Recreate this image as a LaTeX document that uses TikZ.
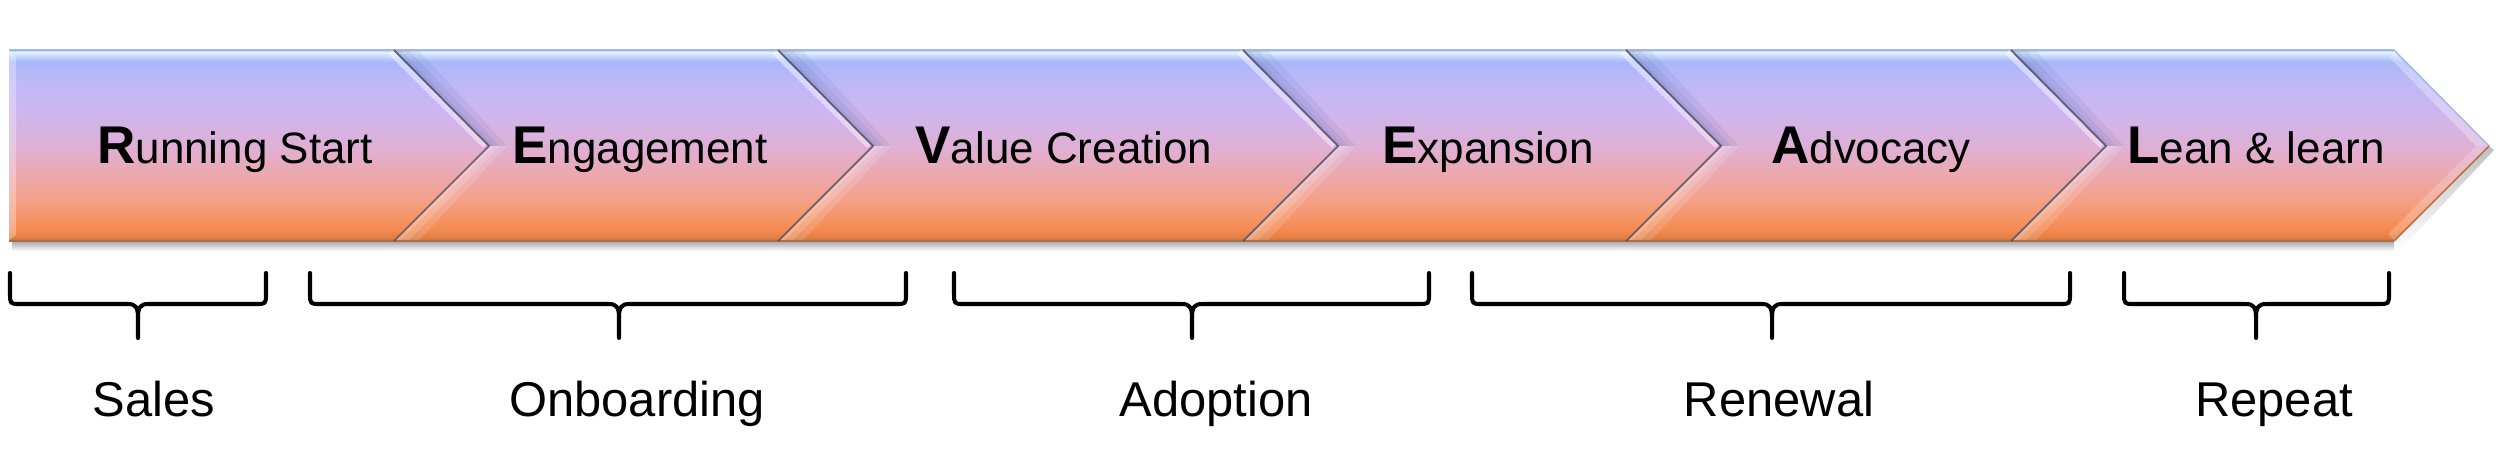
\documentclass[tikz,border=0pt]{standalone}
\usepackage{fontspec}
\setmainfont{Liberation Sans}
\definecolor{cBot}{HTML}{B86A3A}
\definecolor{cOa}{HTML}{E07E42}
\definecolor{cOb}{HTML}{F48A4E}
\definecolor{cOc}{HTML}{F4966C}
\definecolor{cS}{HTML}{F4A088}
\definecolor{cP}{HTML}{ECA8AE}
\definecolor{cM}{HTML}{DEB0D6}
\definecolor{cL}{HTML}{CDB6F0}
\definecolor{cLb}{HTML}{BDB8F8}
\definecolor{cB}{HTML}{A8B8F8}
\definecolor{cHa}{HTML}{C4D8FC}
\definecolor{cHb}{HTML}{E6F4FF}
\definecolor{cTop}{HTML}{A0B8E4}
\definecolor{notchdark}{HTML}{404058}
\definecolor{notchblue}{HTML}{5060A8}
\pgfdeclareverticalshading{barshade}{100bp}{color(0bp)=(cBot); color(25bp)=(cBot); color(25.8bp)=(cOa); color(27.9bp)=(cOb); color(31.8bp)=(cOc); color(35.7bp)=(cS); color(42.3bp)=(cP); color(50bp)=(cM); color(59.3bp)=(cL); color(67.1bp)=(cLb); color(71.9bp)=(cB); color(73.4bp)=(cHa); color(74.5bp)=(cHb); color(75bp)=(cTop); color(100bp)=(cTop)}
\newcommand{\bigini}[1]{{\fontsize{15.1}{18}\selectfont\bfseries #1}}
\newcommand{\mybrace}[3]{%
  \draw[bracepath] (#1,273) -- (#1,293) .. controls (#1,304) and (#1,304) .. ({#1+10},304) -- ({#2-10},304) .. controls ({#2-3},304) and (#2,307) .. (#2,317) -- (#2,338);
  \draw[bracepath] (#3,273) -- (#3,293) .. controls (#3,304) and (#3,304) .. ({#3-10},304) -- ({#2+10},304) .. controls ({#2+3},304) and (#2,307) .. (#2,317);
}
\newcommand{\mynotch}[1]{%
  \foreach \w in {18,11,5} {
    \fill[notchblue, opacity=0.1] (#1,51) -- ({#1+95},146) -- ({#1+95+\w},146) -- ({#1+\w*1.4},51) -- cycle;
    \fill[white, opacity=0.14] ({#1+95},146) -- (#1,240) -- ({#1+\w*1.4},240) -- ({#1+95+\w},146) -- cycle;
  }
  \draw[white, opacity=0.45, line width=1.5pt] ({#1-4},52) -- ({#1+91},146);
  \draw[notchdark, opacity=0.75, line width=0.5pt] (#1,50) -- ({#1+95},146) -- (#1,241);
}
\tikzset{
  steptext/.style={anchor=base, inner sep=0pt, font=\fontsize{12.5}{15}\selectfont},
  labeltext/.style={anchor=base, inner sep=0pt, font=\fontsize{13.9}{16}\selectfont},
  bracepath/.style={line width=1.15pt, line join=round, line cap=round, black},
  segment/.style={shading=barshade}
}
\begin{document}
\begin{tikzpicture}[x=0.01cm, y=-0.01cm]
\useasboundingbox (0,0) rectangle (2500,461);
% shadow
\shade[top color=black!35, bottom color=white] (12,241) rectangle (2394,251);
\shade[top color=black!25, bottom color=white] (2394,241) -- (2489,146) -- (2494,150) -- (2400,250) -- cycle;
% segments
\shade[segment] (9,50) -- (394,50) -- (489,146) -- (394,241) -- (9,241) -- cycle;
\shade[segment] (394,50) -- (778,50) -- (873,146) -- (778,241) -- (394,241) -- (489,146) -- cycle;
\shade[segment] (778,50) -- (1243,50) -- (1338,146) -- (1243,241) -- (778,241) -- (873,146) -- cycle;
\shade[segment] (1243,50) -- (1626,50) -- (1721,146) -- (1626,241) -- (1243,241) -- (1338,146) -- cycle;
\shade[segment] (1626,50) -- (2011,50) -- (2106,146) -- (2011,241) -- (1626,241) -- (1721,146) -- cycle;
\shade[segment] (2011,50) -- (2394,50) -- (2489,146) -- (2394,241) -- (2011,241) -- (2106,146) -- cycle;
% edges
\draw[cTop, line width=0.4pt] (9,50) -- (2394,50);
\draw[cBot, line width=0.5pt] (9,241) -- (2394,241);
\fill[white, opacity=0.3] (9,51) -- (16,57) -- (16,235) -- (9,240) -- cycle;
\fill[white, opacity=0.3] (2394,51) -- (2489,146) -- (2476,146) -- (2390,58) -- cycle;
\fill[white, opacity=0.2] (2489,146) -- (2394,240) -- (2388,234) -- (2476,146) -- cycle;
\draw[cTop, line width=0.4pt] (2394,50) -- (2489,146);
\draw[cBot, line width=0.4pt] (2489,146) -- (2394,241);
% notches
\mynotch{394}
\mynotch{778}
\mynotch{1243}
\mynotch{1626}
\mynotch{2011}
% step texts
\node[steptext] (t1) at (235,163) {\bigini{R}unning Start};
\node[steptext] (t2) at (640,163) {\bigini{E}ngagement};
\node[steptext] (t3) at (1064,163) {\bigini{V}alue Creation};
\node[steptext] (t4) at (1488,163) {\bigini{E}xpansion};
\node[steptext] (t5) at (1871,163) {\bigini{A}dvocacy};
\node[steptext] (t6) at (2256,163) {\bigini{L}ean \& learn};
% braces
\mybrace{10}{138}{266}
\mybrace{310}{619}{906}
\mybrace{954}{1192}{1429}
\mybrace{1472}{1772}{2070}
\mybrace{2124}{2256}{2389}
% labels
\node[labeltext] (l1) at (154,416) {Sales};
\node[labeltext] (l2) at (637,416) {Onboarding};
\node[labeltext] (l3) at (1216,416) {Adoption};
\node[labeltext] (l4) at (1779,416) {Renewal};
\node[labeltext] (l5) at (2274,416) {Repeat};
\end{tikzpicture}
\end{document}
